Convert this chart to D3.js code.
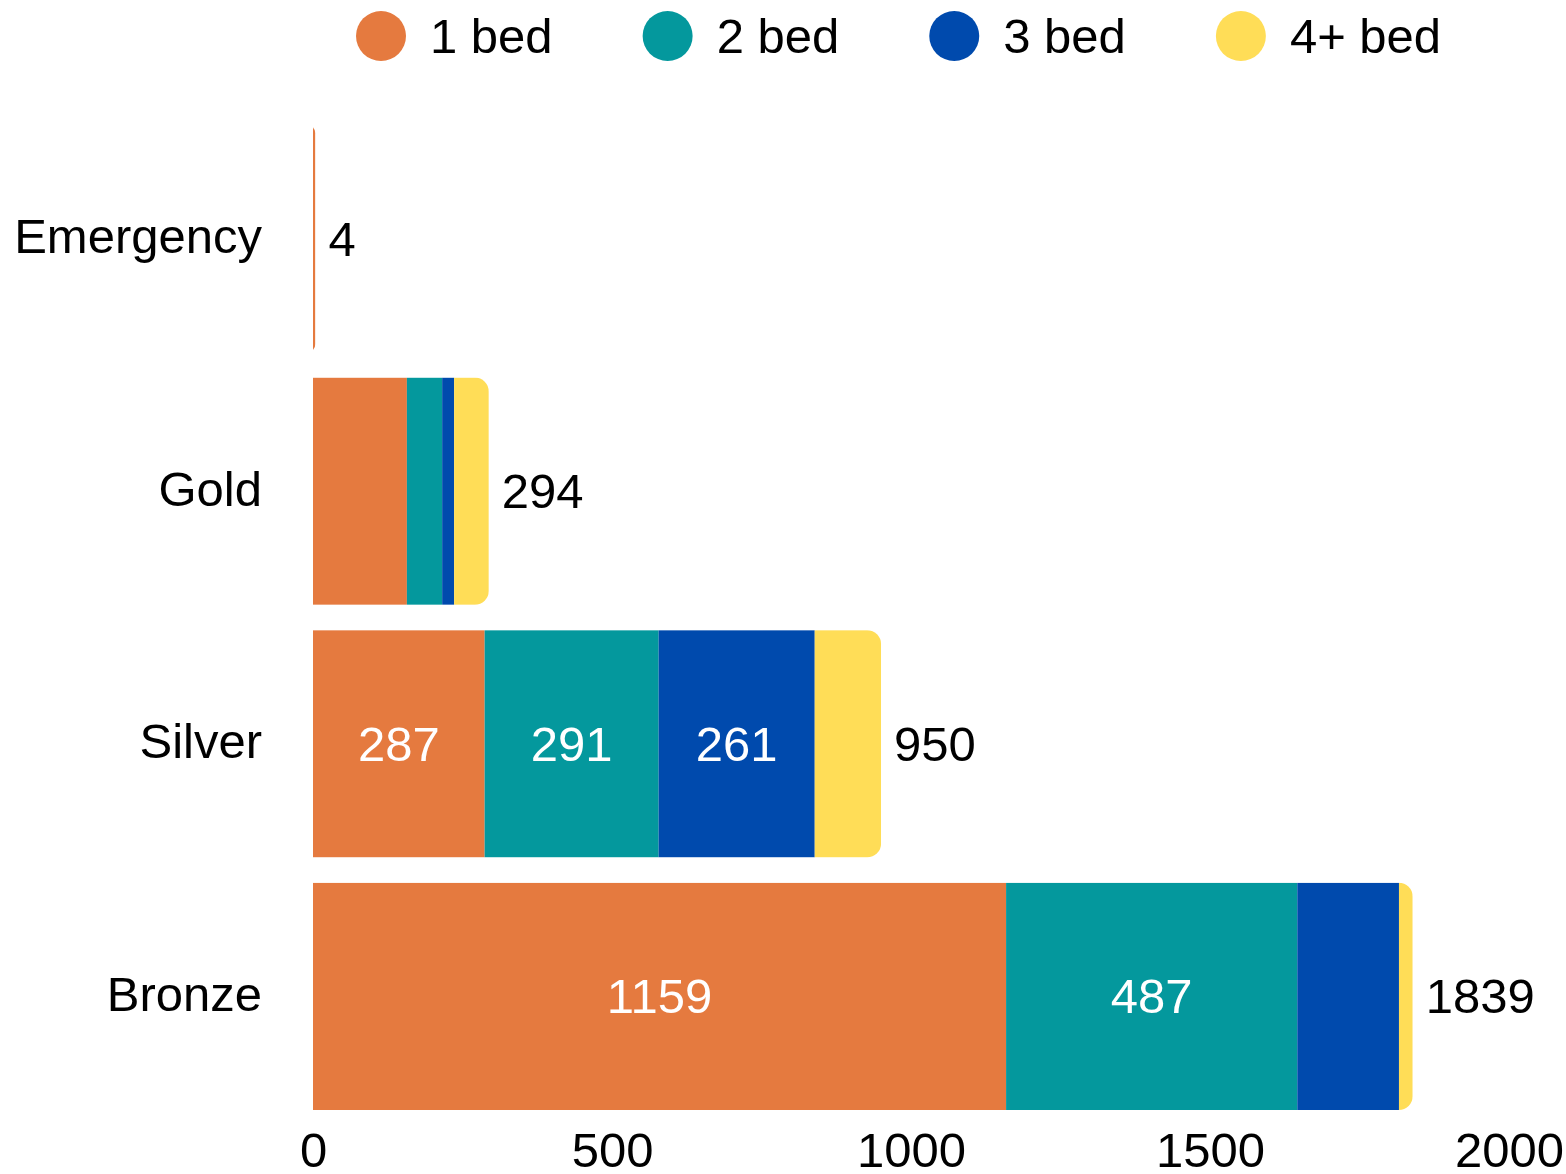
<!DOCTYPE html>
<html lang="en">
<head>
<meta charset="utf-8">
<script src="https://d3js.org/d3.v7.min.js"></script>
<style>
  body { margin: 0; background: #fff; }
  svg text { font-family: "Liberation Sans", Arial, sans-serif; font-size: 49px; fill: #000; }
</style>
</head>
<body>
<script>
var width = 1566, height = 1174;

var categories = ["Emergency", "Gold", "Silver", "Bronze"];
var series = ["1 bed", "2 bed", "3 bed", "4+ bed"];
var colors = ["#E57A3F", "#04989D", "#004AAD", "#FFDD57"];
var oneBed  = [4, 157, 287, 1159];
var twoBed  = [0, 59, 291, 487];
var threeBed = [0, 20, 261, 170];
var fourBed = [0, 58, 111, 23];
var xTicks = [0, 500, 1000, 1500, 2000];

var values = [oneBed, twoBed, threeBed, fourBed];
var rows = categories.map(function(c, i) {
    var row = {category: c};
    series.forEach(function(s, j) { row[s] = values[j][i]; });
    row.total = d3.sum(values, function(v) { return v[i]; });
    return row;
});

var svg = d3.select("body").append("svg")
    .attr("width", width)
    .attr("height", height);

var x = d3.scaleLinear().domain([0, 2000]).range([313, 1509]);
var y = d3.scaleBand().domain(categories).range([125, 1110]).paddingInner(0.1).paddingOuter(0);
var color = d3.scaleOrdinal().domain(series).range(colors);

var stacked = d3.stack().keys(series)(rows);
var r = 14;

// clip each bar so only its right end gets rounded
var defs = svg.append("defs");
rows.forEach(function(d, i) {
    var w = x(d.total) - x(0);
    defs.append("clipPath").attr("id", "clip" + i)
        .append("rect")
        .attr("x", x(0) - r)
        .attr("y", y(d.category))
        .attr("width", w + r)
        .attr("height", y.bandwidth())
        .attr("rx", Math.min(r, (w + r) / 2));
});

var bars = svg.append("g").selectAll("g.bar")
    .data(rows)
    .enter().append("g")
    .attr("class", "bar")
    .attr("clip-path", function(d, i) { return "url(#clip" + i + ")"; });

bars.each(function(row, i) {
    var g = d3.select(this);
    stacked.forEach(function(layer) {
        var seg = layer[i];
        if (seg[1] - seg[0] <= 0) return;
        g.append("rect")
            .attr("x", x(seg[0]))
            .attr("y", y(row.category))
            .attr("width", x(seg[1]) - x(seg[0]))
            .attr("height", y.bandwidth())
            .attr("fill", color(layer.key));
    });
});

// value labels inside wide segments
stacked.forEach(function(layer) {
    layer.forEach(function(seg, i) {
        var w = x(seg[1]) - x(seg[0]);
        if (w < 120) return;
        svg.append("text")
            .attr("x", (x(seg[0]) + x(seg[1])) / 2)
            .attr("y", y(categories[i]) + y.bandwidth() / 2)
            .attr("dy", "0.35em")
            .attr("text-anchor", "middle")
            .style("fill", "#fff")
            .text(seg[1] - seg[0]);
    });
});

// totals
svg.append("g").selectAll("text")
    .data(rows)
    .enter().append("text")
    .attr("x", function(d) { return x(d.total) + 13; })
    .attr("y", function(d) { return y(d.category) + y.bandwidth() / 2; })
    .attr("dy", "0.35em")
    .text(function(d) { return d.total; });

// category labels
svg.append("g").selectAll("text")
    .data(categories)
    .enter().append("text")
    .attr("x", 262)
    .attr("y", function(d) { return y(d) + y.bandwidth() / 2; })
    .attr("dy", "0.3em")
    .attr("text-anchor", "end")
    .text(function(d) { return d; });

// x axis, labels only
var xAxis = svg.append("g")
    .attr("transform", "translate(0,1110)")
    .call(d3.axisBottom(x).tickValues(xTicks).tickFormat(d3.format("d")).tickSize(0).tickPadding(22));
xAxis.select(".domain").remove();
xAxis.selectAll("text")
    .attr("dy", "0.71em")
    .style("font-family", "'Liberation Sans', Arial, sans-serif")
    .style("font-size", "49px")
    .style("fill", "#000");

// legend
var legend = svg.append("g").attr("transform", "translate(356,36)");
var lx = 0;
series.forEach(function(s) {
    var item = legend.append("g").attr("transform", "translate(" + lx + ",0)");
    item.append("circle").attr("cx", 25).attr("cy", 0).attr("r", 25).attr("fill", color(s));
    var t = item.append("text").attr("x", 74).attr("dy", "0.35em").text(s);
    lx += 74 + t.node().getComputedTextLength() + 90;
});
</script>
</body>
</html>
